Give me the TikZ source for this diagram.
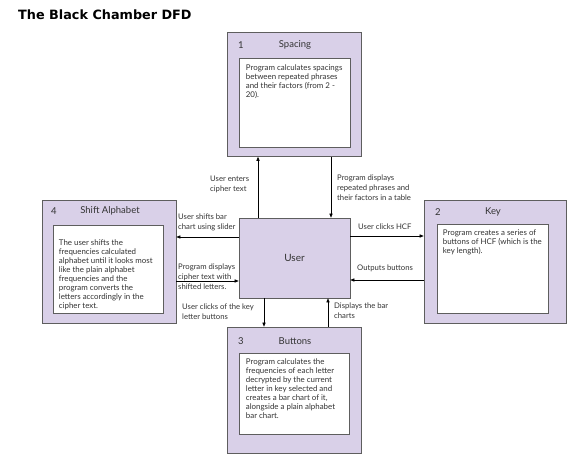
\documentclass[tikz,border=0pt]{standalone}
\usepackage{fontspec}
\setmainfont{Lato}
\newfontfamily\titlefont{DejaVu Sans}
\usetikzlibrary{positioning,arrows.meta}
\definecolor{cProc}{HTML}{D9D0E8}
\definecolor{cEdge}{HTML}{5E5E5E}
\definecolor{cText}{HTML}{333333}
\tikzset{
  proc/.style={draw=cEdge, fill=cProc, line width=0.7pt, inner sep=0pt},
  desc/.style={draw=cEdge, fill=white, line width=0.6pt, inner sep=0pt},
  dtxt/.style={font=\fontsize{7.9}{9}\selectfont, text=cText, align=left,
               inner sep=0pt, anchor=north west},
  hnum/.style={font=\fontsize{9.5}{11}\selectfont, text=cText, anchor=west, inner sep=0pt},
  htxt/.style={font=\fontsize{9.5}{11}\selectfont, text=cText, inner sep=0pt},
  ar/.style={-{Triangle[length=4pt,width=3.2pt]}, line width=0.6pt, black},
  lbl/.style={font=\fontsize{7.7}{9.7}\selectfont, text=cText, align=left,
              inner sep=0pt, anchor=north west},
}

\begin{document}
\begin{tikzpicture}[x=1pt, y=-1pt]
  \useasboundingbox (0,0) rectangle (578,470);
  \node[anchor=west, inner sep=0pt, font={\titlefont\bfseries\fontsize{12.8}{14}\selectfont}] (title) at (18,15) {The Black Chamber DFD};

  % process 1
  \node[proc, minimum width=134pt, minimum height=124pt] (spacing) at (294.5,94.5) {};
  \node[desc, minimum width=111pt, minimum height=89pt] (spacingd) at (294.5,102.5) {};
  \node[hnum] (spacingn) at (238,45) {1};
  \node[htxt] (spacingh) at (295,45) {Spacing};
  \node[dtxt] (spacingt) at ([xshift=7pt,yshift=-7pt]spacingd.north west)
    {Program calculates spacings\\between repeated phrases\\and their factors (from 2 -\\20).};

  % process 4
  \node[proc, minimum width=134pt, minimum height=123pt] (shift) at (109,261.5) {};
  \node[desc, minimum width=110pt, minimum height=88pt] (shiftd) at (108,269) {};
  \node[hnum] (shiftn) at (51,211) {4};
  \node[htxt] (shifth) at (110,211) {Shift Alphabet};
  \node[dtxt] (shiftt) at ([xshift=6pt,yshift=-15pt]shiftd.north west)
    {The user shifts the\\frequencies calculated\\alphabet until it looks most\\like the plain alphabet\\frequencies and the\\program converts the\\letters accordingly in the\\cipher text.};

  % process 2
  \node[proc, minimum width=142pt, minimum height=123pt] (key) at (495,261.5) {};
  \node[desc, minimum width=111pt, minimum height=89pt] (keyd) at (492.5,268.5) {};
  \node[hnum] (keyn) at (435,212) {2};
  \node[htxt] (keyh) at (493,212) {Key};
  \node[dtxt] (keyt) at ([xshift=6pt,yshift=-6pt]keyd.north west)
    {Program creates a series of\\buttons of HCF (which is the\\key length).};

  % process 3
  \node[proc, minimum width=134pt, minimum height=126pt] (buttons) at (294,390) {};
  \node[desc, minimum width=110pt, minimum height=81pt] (buttonsd) at (294,393.5) {};
  \node[hnum] (buttonsn) at (238,341) {3};
  \node[htxt] (buttonsh) at (295,341) {Buttons};
  \node[dtxt] (buttonst) at ([xshift=7pt,yshift=-6pt]buttonsd.north west)
    {Program calculates the\\frequencies of each letter\\decrypted by the current\\letter in key selected and\\creates a bar chart of it,\\alongside a plain alphabet\\bar chart.};

  % external entity
  \node[proc, minimum width=111pt, minimum height=80pt, font=\fontsize{10}{12}\selectfont, text=cText] (user) at (294.5,258) {User};

  % flows
  \coordinate (ua) at ([xshift=-36.5pt]user.north);
  \draw[ar] (ua) -- (ua |- spacing.south);
  \coordinate (ub) at ([xshift=36.5pt]user.north);
  \draw[ar] (ub |- spacing.south) -- (ub);
  \coordinate (uc) at ([yshift=21pt]user.west);
  \draw[ar] (uc) -- (uc -| shift.east);
  \coordinate (ud) at ([yshift=-23pt]user.west);
  \draw[ar] (ud -| shift.east) -- (ud);
  \coordinate (ue) at ([yshift=22pt]user.east);
  \draw[ar] (ue) -- (ue -| key.west);
  \coordinate (uf) at ([yshift=-22pt]user.east);
  \draw[ar] (uf -| key.west) -- (uf);
  \coordinate (ug) at ([xshift=-30.5pt]user.south);
  \draw[ar] (ug) -- (ug |- buttons.north);
  \coordinate (uh) at ([xshift=33.5pt]user.south);
  \draw[ar] (uh |- buttons.north) -- (uh);

  % flow labels
  \node[lbl] (la) at (210,176) {User enters\\cipher text};
  \node[lbl] (lb) at (337,175) {Program displays\\repeated phrases and\\their factors in a table};
  \node[lbl] (lc) at (178,214) {User shifts bar\\chart using slider};
  \node[lbl] (ld) at (178,264) {Program displays\\cipher text with\\shifted letters.};
  \node[lbl] (le) at (358,224) {User clicks HCF};
  \node[lbl] (lf) at (357,265) {Outputs buttons};
  \node[lbl] (lg) at (182,304) {User clicks of the key\\letter buttons};
  \node[lbl] (lh) at (334,303) {Displays the bar\\charts};
\end{tikzpicture}
\end{document}
